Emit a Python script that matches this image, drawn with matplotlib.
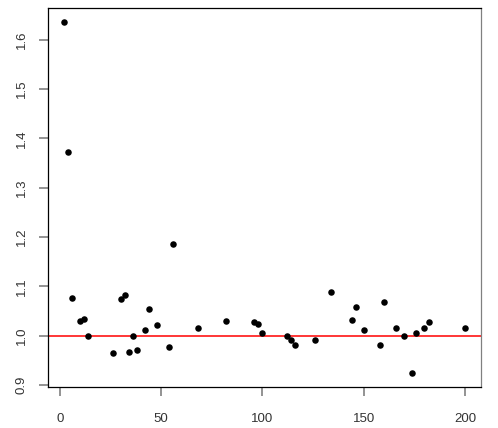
import matplotlib
matplotlib.use("Agg")
import matplotlib.pyplot as plt

x_vals = [2, 4, 6, 10, 12, 14, 26, 30, 32, 34, 36, 38, 42, 44, 48, 54, 56, 68, 82,
          96, 98, 100, 112, 114, 116, 126, 134, 144, 146, 150, 158, 160, 166, 170,
          174, 176, 180, 182, 200]
y_vals = [1.636, 1.373, 1.076, 1.030, 1.034, 1.000, 0.964, 1.074, 1.082, 0.966,
          1.000, 0.970, 1.012, 1.053, 1.021, 0.977, 1.185, 1.016, 1.030,
          1.028, 1.024, 1.005, 1.000, 0.991, 0.980, 0.991, 1.088, 1.032, 1.058,
          1.012, 0.980, 1.067, 1.016, 1.000, 0.924, 1.005, 1.016, 1.028, 1.016]
ref_line = 1.0
x_ticks = [0, 50, 100, 150, 200]
y_ticks = [0.9, 1.0, 1.1, 1.2, 1.3, 1.4, 1.5, 1.6]

W, H = 498, 428
fig = plt.figure(figsize=(W / 100, H / 100), dpi=100)
ax = fig.add_axes([48 / W, (H - 387) / H, (481 - 48) / W, (387 - 8) / H])

ax.scatter(x_vals, y_vals, s=22, color="black", zorder=3, linewidths=0)
ax.axhline(ref_line, color="#ff0000", linewidth=1.1, zorder=2)

xr = max(x_vals) - min(x_vals)
yr = max(y_vals) - min(y_vals)
ax.set_xlim(min(x_vals) - 0.04 * xr, max(x_vals) + 0.04 * xr)
ax.set_ylim(min(y_vals) - 0.04 * yr, max(y_vals) + 0.04 * yr)

ax.set_xticks(x_ticks)
ax.set_xticklabels([str(t) for t in x_ticks])
ax.set_yticks(y_ticks)
ax.set_yticklabels([f"{t:.1f}" for t in y_ticks], rotation=90, va="center")

for side in ["left", "top", "bottom"]:
    ax.spines[side].set_color("black")
    ax.spines[side].set_linewidth(0.9)
ax.spines["right"].set_color("#808080")
ax.spines["right"].set_linewidth(0.9)

ax.tick_params(axis="both", direction="out", length=6.5, width=1.2, color="#808080",
               labelcolor="#333333", labelsize=9.5)
ax.tick_params(axis="x", pad=12)
ax.tick_params(axis="y", pad=8)
for lab in ax.get_xticklabels() + ax.get_yticklabels():
    lab.set_family("Liberation Sans")

fig.savefig("out.png", dpi=100, facecolor="white")
